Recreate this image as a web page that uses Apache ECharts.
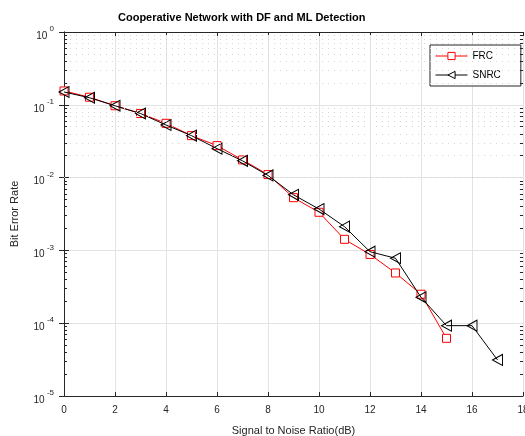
<!DOCTYPE html>
<html>
<head>
<meta charset="utf-8">
<script src="https://cdn.jsdelivr.net/npm/echarts@6/dist/echarts.min.js"></script>
<style>
  html, body { margin: 0; padding: 0; background: #fff; }
  #chart { width: 525px; height: 436px; }
</style>
</head>
<body>
<div id="chart"></div>
<script>
// values
const snrFrc = [0, 1, 2, 3, 4, 5, 6, 7, 8, 9, 10, 11, 12, 13, 14, 15];
const berFrc = [0.155, 0.127, 0.097, 0.076, 0.0557, 0.0377, 0.0275, 0.0175, 0.011, 0.0053,
                0.00334, 0.00142, 0.00088, 0.00049, 0.00025, 0.000062];
const snrSnrc = [0, 1, 2, 3, 4, 5, 6, 7, 8, 9, 10, 11, 12, 13, 14, 15, 16, 17];
const berSnrc = [0.15, 0.125, 0.097, 0.076, 0.0528, 0.0377, 0.025, 0.017, 0.0107, 0.0058,
                 0.0037, 0.00212, 0.00096, 0.00078, 0.000227, 0.0000925, 0.0000925, 0.0000313];
const decades = [-5, -4, -3, -2, -1];
const minorMults = [2, 3, 4, 5, 6, 7, 8, 9];

const font = 'Liberation Sans, Arial, Helvetica, sans-serif';

// minor grid lines / ticks for the log axis at 2..9 x 10^k
const minorVals = [];
decades.forEach(d => minorMults.forEach(m => minorVals.push(m * Math.pow(10, d))));

const minorGrid = minorVals.map(v => ({ yAxis: v }));
const minorTicks = [];
minorVals.forEach(v => {
    minorTicks.push([{ coord: [0, v] }, { coord: [0.12, v] }]);
    minorTicks.push([{ coord: [17.88, v] }, { coord: [18, v] }]);
});

const chart = echarts.init(document.getElementById('chart'));

const axisLabelY = {
    color: '#262626',
    fontFamily: font,
    margin: 10,
    formatter: v => {
        const e = Math.round(Math.log10(v));
        return '{b|10}{e| ' + e + '}';
    },
    rich: {
        b: { fontSize: 10, fontFamily: font, color: '#262626', padding: [8, 0, 0, 0] },
        e: { fontSize: 8, fontFamily: font, color: '#262626', padding: [0, 0, 6, 0] }
    }
};

chart.setOption({
    animation: false,
    backgroundColor: '#fff',
    title: {
        text: 'Cooperative Network with DF and ML Detection',
        left: 113,
        top: 7,
        textStyle: { fontSize: 11, fontWeight: 'bold', fontFamily: font, color: '#000' }
    },
    legend: {
        left: 430,
        top: 45,
        orient: 'vertical',
        backgroundColor: '#fff',
        borderColor: '#262626',
        borderWidth: 1,
        borderRadius: 0,
        padding: [6, 20, 6, 5],
        itemGap: 9,
        itemWidth: 32,
        itemHeight: 9,
        itemStyle: { color: '#fff', borderWidth: 1 },
        lineStyle: { width: 1 },
        textStyle: { fontSize: 10, fontFamily: font, color: '#000' },
        data: ['FRC', 'SNRC']
    },
    grid: { left: 64, top: 32, right: 2, bottom: 40, outerBoundsMode: 'none' },
    xAxis: [{
        type: 'value',
        min: 0, max: 18, interval: 2,
        name: 'Signal to Noise Ratio(dB)',
        nameLocation: 'middle',
        nameGap: 29,
        nameTextStyle: { fontSize: 11, fontFamily: font, color: '#262626' },
        axisLine: { lineStyle: { color: '#262626', width: 1 } },
        axisTick: { inside: true, length: 4, lineStyle: { color: '#262626' } },
        axisLabel: { fontSize: 10, fontFamily: font, color: '#262626', margin: 9 },
        splitLine: { show: true, lineStyle: { color: '#e3e3e3', width: 1 } }
    }, {
        type: 'value', position: 'top',
        min: 0, max: 18, interval: 2,
        axisLine: { lineStyle: { color: '#262626', width: 1 } },
        axisTick: { inside: true, length: 4, lineStyle: { color: '#262626' } },
        axisLabel: { show: false },
        splitLine: { show: false }
    }],
    yAxis: [{
        type: 'log',
        logBase: 10,
        min: 1e-5, max: 1,
        name: 'Bit Error Rate',
        nameLocation: 'middle',
        nameGap: 44,
        nameRotate: 90,
        nameTextStyle: { fontSize: 11, fontFamily: font, color: '#262626' },
        axisLine: { lineStyle: { color: '#262626', width: 1 } },
        axisTick: { inside: true, length: 5, lineStyle: { color: '#262626' } },
        axisLabel: axisLabelY,
        splitLine: { show: true, lineStyle: { color: '#e3e3e3', width: 1 } }
    }, {
        type: 'log', position: 'right',
        logBase: 10,
        min: 1e-5, max: 1,
        axisLine: { lineStyle: { color: '#262626', width: 1 } },
        axisTick: { inside: true, length: 5, lineStyle: { color: '#262626' } },
        axisLabel: { show: false },
        splitLine: { show: false }
    }],
    series: [{
        name: 'grid-minor',
        type: 'line',
        data: [],
        silent: true,
        markLine: {
            silent: true,
            symbol: 'none',
            label: { show: false },
            lineStyle: { color: '#d4d4d4', type: [1, 5], width: 1 },
            data: minorGrid
        }
    }, {
        name: 'tick-minor',
        type: 'line',
        data: [],
        silent: true,
        markLine: {
            silent: true,
            symbol: 'none',
            label: { show: false },
            lineStyle: { color: '#262626', type: 'solid', width: 1 },
            data: minorTicks
        }
    }, {
        name: 'FRC',
        type: 'line',
        data: snrFrc.map((x, i) => [x, berFrc[i]]),
        symbol: 'rect',
        symbolSize: 8,
        showAllSymbol: true,
        color: '#ff0000',
        lineStyle: { color: '#ff0000', width: 1 },
        itemStyle: { color: '#fff', borderColor: '#ff0000', borderWidth: 1 },
        z: 3
    }, {
        name: 'SNRC',
        type: 'line',
        data: snrSnrc.map((x, i) => [x, berSnrc[i]]),
        symbol: 'triangle',
        symbolRotate: 90,
        symbolSize: [11, 10],
        showAllSymbol: true,
        color: '#000',
        lineStyle: { color: '#000', width: 1 },
        itemStyle: { color: 'rgba(255,255,255,0)', borderColor: '#000', borderWidth: 1 },
        z: 4
    }]
});
</script>
</body>
</html>
